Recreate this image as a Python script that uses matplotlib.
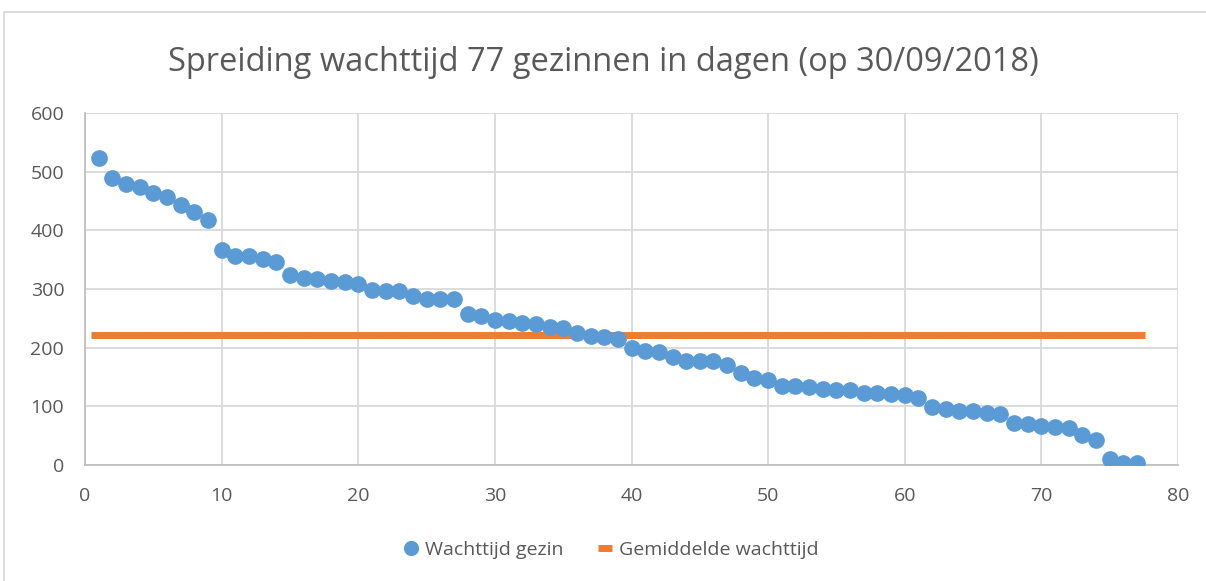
import matplotlib
matplotlib.use('Agg')
import matplotlib.pyplot as plt
from matplotlib.patches import Rectangle

# wachttijd per gezin (dagen), gezin 1..77
gezin = list(range(1, 78))
wachttijd = [523, 489, 479, 474, 464, 457, 443, 431, 418, 366,
             356, 356, 351, 346, 324, 319, 317, 314, 312, 309,
             298, 297, 297, 288, 283, 283, 283, 257, 254, 247,
             245, 242, 240, 235, 233, 225, 220, 218, 215, 199,
             194, 193, 184, 177, 177, 177, 170, 157, 148, 145,
             135, 135, 133, 130, 128, 128, 123, 123, 121, 119,
             114, 99, 95, 92, 92, 89, 87, 72, 70, 66,
             65, 63, 51, 43, 10, 3, 3]
gemiddelde = [222] * 77

xticks = [0, 10, 20, 30, 40, 50, 60, 70, 80]
yticks = [0, 100, 200, 300, 400, 500, 600]

blue = '#5b9bd5'
orange = '#ed7d31'
grey_txt = '#595959'

plt.rcParams['font.family'] = ['Open Sans', 'DejaVu Sans']

fig = plt.figure(figsize=(12.06, 5.81), dpi=100)
ax = fig.add_axes([0.0705, 0.1997, 0.9063, 0.6058])

ax.plot(gezin, gemiddelde, linestyle='none', marker='_', markersize=11,
        markeredgewidth=5, color=orange, label='Gemiddelde wachttijd', zorder=3)
ax.plot(gezin, wachttijd, linestyle='none', marker='o', markersize=11,
        color=blue, label='Wachttijd gezin', zorder=4)

ax.set_xlim(0, 80)
ax.set_ylim(0, 600)
ax.set_xticks(xticks)
ax.set_yticks(yticks)
ax.grid(True, color='#d9d9d9', linewidth=1.3)
ax.set_axisbelow(True)
for s in ['top', 'right']:
    ax.spines[s].set_visible(False)
for s in ['left', 'bottom']:
    ax.spines[s].set_color('#bfbfbf')
    ax.spines[s].set_linewidth(1.3)
ax.tick_params(length=0, labelsize=14, colors=grey_txt)
ax.tick_params(axis='y', pad=15)
ax.tick_params(axis='x', pad=16)

fig.text(0.5, 0.893, 'Spreiding wachttijd 77 gezinnen in dagen (op 30/09/2018)',
         ha='center', va='center', fontsize=23.5, color=grey_txt)

h, l = ax.get_legend_handles_labels()
leg = fig.legend([h[1], h[0]], [l[1], l[0]], loc='center', bbox_to_anchor=(0.506, 0.053),
                 ncol=2, frameon=False, fontsize=14, handlelength=0.9,
                 columnspacing=1.7, handletextpad=0.25, markerscale=0.9)
for t in leg.get_texts():
    t.set_color(grey_txt)

fig.patches.append(Rectangle((4 / 1206, -0.01), 1.01, 1 - 12 / 581 + 0.01,
                             transform=fig.transFigure, fill=False,
                             edgecolor='#d9d9d9', linewidth=1.3))

fig.savefig('out.png', dpi=100)
